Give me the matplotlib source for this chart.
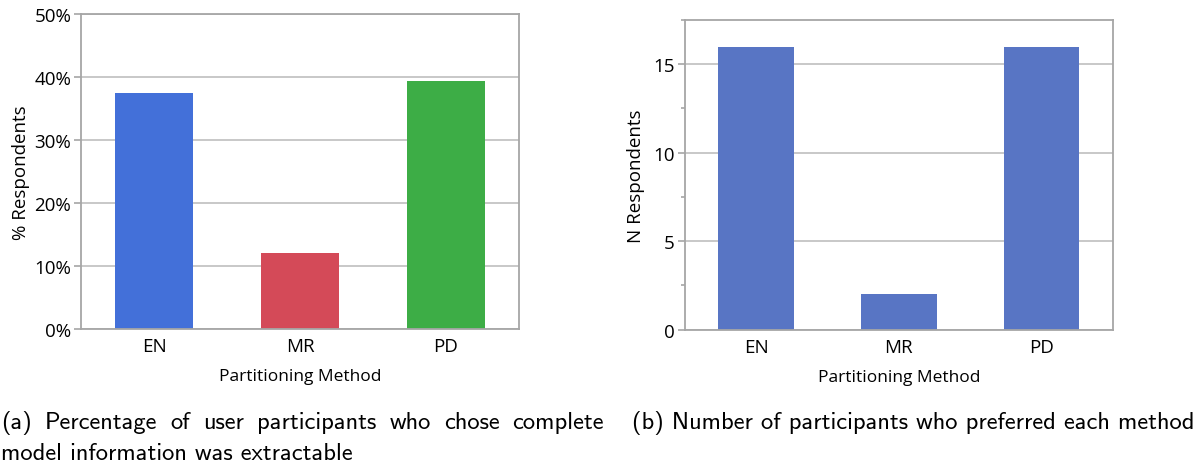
import matplotlib
matplotlib.use("Agg")
import matplotlib.pyplot as plt
from matplotlib.ticker import PercentFormatter, MultipleLocator

# Data
methods = ["EN", "MR", "PD"]
pct_extractable = [37.5, 12.1, 39.3]
pct_colors = ["#4370D9", "#D44A58", "#3DAD46"]
n_preferred = [16, 2, 16]

W, H = 1204, 464
fig = plt.figure(figsize=(W / 100, H / 100), dpi=100)

plt.rcParams["font.family"] = ["Open Sans", "DejaVu Sans"]
GRID = "#C4C4C4"
SPINE = "#A6A6A6"


def style_axes(ax):
    for s in ax.spines.values():
        s.set_color(SPINE)
        s.set_linewidth(1.3)
    ax.set_axisbelow(True)
    ax.yaxis.grid(True, color=GRID, linewidth=1.3)
    ax.tick_params(axis="y", which="both", color=SPINE, labelsize=13.5, length=5, width=1.2, pad=2)
    ax.tick_params(axis="x", length=0, labelsize=13.5, pad=6)
    ax.set_xlim(-0.5, 2.5)
    ax.set_xlabel("Partitioning Method", fontsize=12.5, labelpad=9)


# (a) percentage
ax1 = fig.add_axes([81 / W, 1 - 330 / H, 438 / W, 315 / H])
ax1.bar(methods, pct_extractable, width=0.53, color=pct_colors)
ax1.set_ylim(0, 50)
ax1.yaxis.set_major_locator(MultipleLocator(10))
ax1.yaxis.set_major_formatter(PercentFormatter(decimals=0))
ax1.set_ylabel("% Respondents", fontsize=13.5, labelpad=3)
style_axes(ax1)

# (b) counts
ax2 = fig.add_axes([684.7 / W, 1 - 330.7 / H, 428.3 / W, 309.7 / H])
ax2.bar(methods, n_preferred, width=0.53, color="#5875C4")
ax2.set_ylim(0, 17.5)
ax2.yaxis.set_major_locator(MultipleLocator(5))
ax2.yaxis.set_minor_locator(MultipleLocator(2.5))
ax2.set_ylabel("N Respondents", fontsize=13.5, labelpad=6)
style_axes(ax2)
ax2.tick_params(axis="y", which="minor", length=3)

# captions
cap_font = dict(family=["cmss10", "DejaVu Sans"], fontsize=17.6, va="center")
renderer = fig.canvas.get_renderer()


def justified(words, x0, x1, y):
    texts = [fig.text(0, 0, w, transform=None, **cap_font) for w in words]
    widths = [t.get_window_extent(renderer).width for t in texts]
    gap = (x1 - x0 - sum(widths)) / (len(words) - 1)
    x = x0
    for t, w in zip(texts, widths):
        t.set_position((x, H - y))
        x += w + gap


justified("(a) Percentage of user participants who chose complete".split(), 1, 604, 423)
fig.text(1 / W, 1 - 454 / H, "model information was extractable", **cap_font)
fig.text(632 / W, 1 - 423 / H, "(b) Number of participants who preferred each method", **cap_font)

fig.savefig("out.png", dpi=100)
